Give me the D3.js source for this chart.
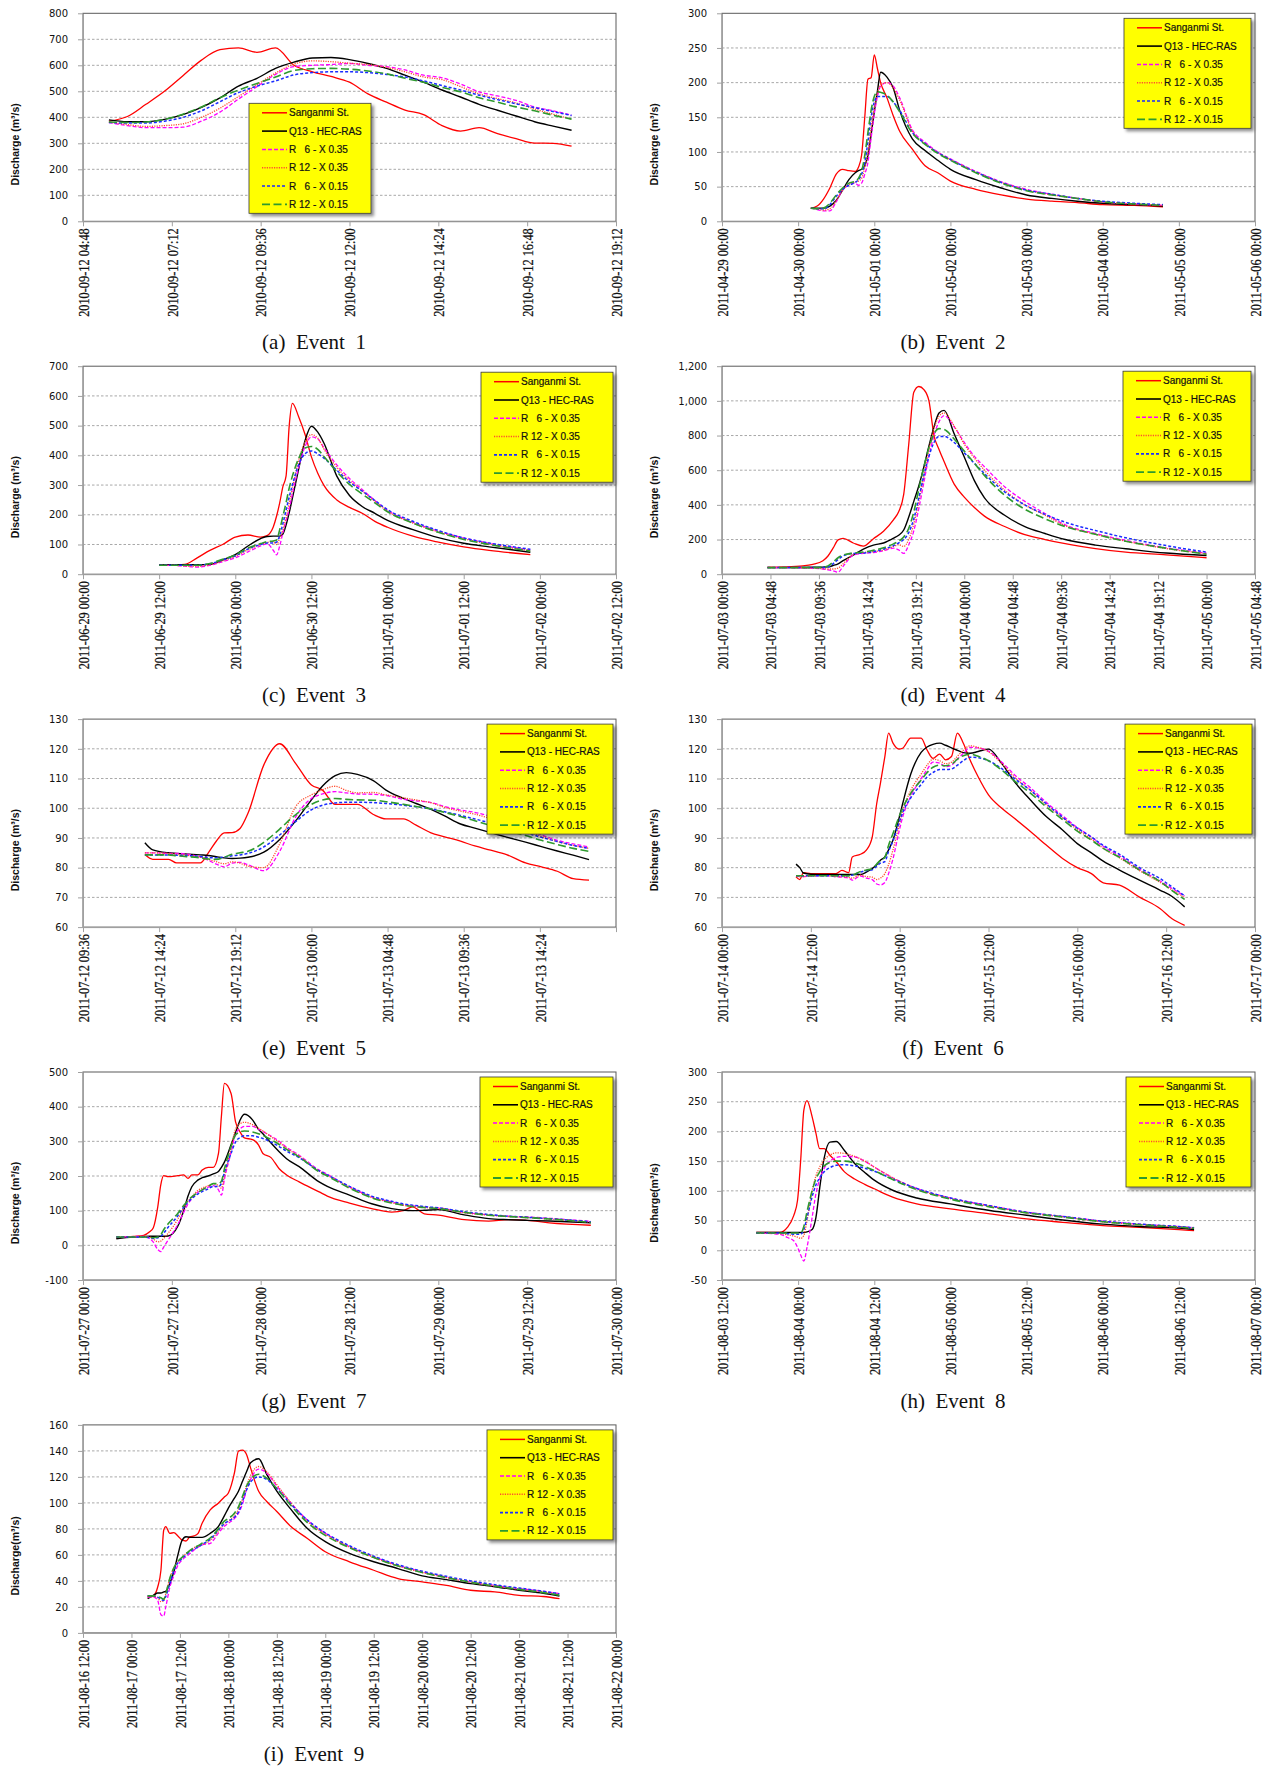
<!DOCTYPE html>
<html>
<head>
<meta charset="utf-8">
<script src="https://cdn.jsdelivr.net/npm/d3@7"></script>
<style>
  body { margin: 0; background: #fff; }
  .yaxis text { font-family: "DejaVu Sans", sans-serif; font-size: 10px; fill: #111; }
  .xaxis text { font-family: "Liberation Serif", serif; font-size: 14.5px; fill: #111; stroke: #111; stroke-width: 0.25px; }
  .axis path, .axis line { stroke: #a0a0a0; }
  .grid { stroke: #a8a8a8; stroke-dasharray: 2.5,2; }
  .ytitle { font-family: "Liberation Sans", Arial, sans-serif; font-size: 10.5px; font-weight: bold; fill: #111; }
  .caption { font-family: "Liberation Serif", serif; font-size: 21px; fill: #111; white-space: pre; }
  .legend text { font-family: "Liberation Sans", Arial, sans-serif; font-size: 10px; fill: #111; stroke: #111; stroke-width: 0.2px; white-space: pre; }
</style>
</head>
<body>
<div id="graf"></div>
<script>
// Serie names and styles
const seriesNames = ["Sanganmi St.", "Q13 - HEC-RAS", "R   6 - X 0.35", "R 12 - X 0.35", "R   6 - X 0.15", "R 12 - X 0.15"]

// Event 1 (hours from 2010-09-12 04:48)
const e1XLabels = ["2010-09-12 04:48", "2010-09-12 07:12", "2010-09-12 09:36", "2010-09-12 12:00", "2010-09-12 14:24", "2010-09-12 16:48", "2010-09-12 19:12"]
const e1XStep = 2.4
const e1YTicks = [0, 100, 200, 300, 400, 500, 600, 700, 800]
const e1Hours = [0.7, 1.2, 1.7, 2.2, 2.7, 3.2, 3.7, 4.2, 4.7, 5.2, 5.7, 6.2, 6.7, 7.2, 7.7, 8.2, 8.7, 9.2, 9.7, 10.2, 10.7, 11.2, 11.7, 12.2, 12.7, 13.2]
const e1Sanganmi = [385, 403, 450, 500, 560, 620, 660, 667, 650, 667, 600, 575, 557, 535, 490, 458, 428, 410, 368, 347, 360, 337, 318, 301, 300, 289]
const e1Q13 = [390, 383, 383, 392, 410, 438, 475, 520, 550, 588, 612, 628, 630, 622, 607, 588, 562, 535, 505, 478, 450, 427, 405, 383, 366, 350]
const e1R6X035 = [380, 368, 360, 360, 362, 385, 420, 470, 518, 565, 595, 600, 603, 607, 600, 595, 582, 562, 552, 528, 498, 482, 465, 440, 425, 408]
const e1R12X035 = [382, 372, 365, 368, 375, 400, 435, 480, 525, 570, 605, 617, 614, 608, 603, 592, 575, 555, 545, 518, 490, 472, 455, 432, 412, 393]
const e1R6X015 = [380, 378, 378, 385, 400, 425, 460, 495, 520, 540, 563, 572, 575, 575, 572, 565, 555, 540, 522, 505, 485, 468, 452, 437, 422, 407]
const e1R12X015 = [382, 380, 382, 392, 412, 440, 475, 505, 530, 555, 580, 587, 588, 585, 578, 567, 550, 535, 515, 498, 475, 458, 440, 425, 408, 393]

// Event 2 (hours from 2011-04-29 00:00)
const e2XLabels = ["2011-04-29 00:00", "2011-04-30 00:00", "2011-05-01 00:00", "2011-05-02 00:00", "2011-05-03 00:00", "2011-05-04 00:00", "2011-05-05 00:00", "2011-05-06 00:00"]
const e2XStep = 24
const e2YTicks = [0, 50, 100, 150, 200, 250, 300]
const e2Hours = [28, 30, 32, 34, 36, 38, 40, 42, 43, 44, 45, 46, 47, 48, 49, 50, 52, 54, 56, 60, 64, 68, 72, 80, 88, 96, 104, 112, 120, 130, 139]
const e2Sanganmi = [19, 22, 32, 48, 68, 75, 73, 72, 78, 95, 150, 205, 207, 240, 220, 200, 178, 152, 130, 104, 80, 70, 58, 46, 38, 32, 29, 27, 24, 23, 21]
const e2Q13 = [19, 19, 19, 22, 30, 45, 60, 70, 73, 75, 80, 95, 125, 158, 188, 215, 208, 192, 160, 119, 102, 88, 75, 60, 48, 38, 33, 29, 26, 24, 22]
const e2R6X035 = [19, 17, 15, 15, 28, 45, 52, 55, 52, 55, 68, 85, 120, 155, 180, 195, 200, 195, 178, 132, 114, 100, 90, 72, 57, 46, 39, 33, 28, 25, 23]
const e2R12X035 = [19, 18, 16, 18, 30, 45, 53, 57, 58, 62, 78, 100, 135, 165, 185, 197, 200, 192, 175, 130, 112, 99, 89, 71, 56, 45, 38, 33, 28, 25, 23]
const e2R6X015 = [19, 18, 18, 24, 36, 46, 52, 56, 60, 68, 85, 115, 150, 172, 180, 180, 180, 172, 160, 128, 112, 99, 89, 71, 56, 45, 39, 33, 29, 26, 24]
const e2R12X015 = [19, 18, 19, 26, 38, 48, 55, 58, 62, 72, 95, 128, 160, 180, 187, 186, 182, 172, 158, 127, 111, 98, 88, 70, 55, 44, 38, 33, 28, 25, 23]

// Event 3 (hours from 2011-06-29 00:00)
const e3XLabels = ["2011-06-29 00:00", "2011-06-29 12:00", "2011-06-30 00:00", "2011-06-30 12:00", "2011-07-01 00:00", "2011-07-01 12:00", "2011-07-02 00:00", "2011-07-02 12:00"]
const e3XStep = 12
const e3YTicks = [0, 100, 200, 300, 400, 500, 600, 700]
const e3Hours = [12, 14, 16, 18, 20, 22, 24, 26, 28, 29, 30, 30.5, 31, 31.5, 32, 32.5, 33, 34, 35, 36, 37, 38, 40, 42, 44, 46, 48, 52, 56, 60, 64, 70.5]
const e3Sanganmi = [31, 31, 33, 55, 80, 100, 125, 132, 125, 130, 160, 195, 240, 295, 330, 500, 575, 529, 470, 395, 340, 298, 250, 225, 205, 178, 158, 128, 108, 92, 80, 66]
const e3Q13 = [32, 32, 32, 32, 33, 48, 66, 95, 120, 127, 128, 128, 128, 135, 165, 207, 256, 355, 450, 498, 478, 440, 330, 265, 228, 205, 181, 150, 123, 104, 92, 74]
const e3R6X035 = [30, 30, 27, 24, 30, 42, 55, 75, 95, 102, 80, 65, 95, 140, 180, 220, 270, 360, 430, 462, 455, 425, 368, 322, 285, 248, 215, 175, 145, 122, 104, 82]
const e3R12X035 = [30, 30, 28, 27, 32, 45, 60, 82, 100, 107, 110, 100, 120, 150, 190, 240, 290, 385, 445, 470, 458, 420, 360, 315, 280, 245, 212, 172, 142, 119, 101, 79]
const e3R6X015 = [30, 30, 30, 30, 35, 48, 62, 85, 100, 105, 105, 108, 130, 170, 215, 260, 300, 370, 405, 415, 405, 390, 350, 310, 280, 248, 217, 178, 147, 122, 105, 84]
const e3R12X015 = [30, 30, 30, 30, 36, 50, 65, 88, 103, 110, 112, 115, 150, 195, 240, 290, 330, 390, 425, 430, 420, 395, 345, 302, 270, 240, 210, 172, 141, 117, 100, 78]

// Event 4 (hours from 2011-07-03 00:00)
const e4XLabels = ["2011-07-03 00:00", "2011-07-03 04:48", "2011-07-03 09:36", "2011-07-03 14:24", "2011-07-03 19:12", "2011-07-04 00:00", "2011-07-04 04:48", "2011-07-04 09:36", "2011-07-04 14:24", "2011-07-04 19:12", "2011-07-05 00:00", "2011-07-05 04:48"]
const e4XStep = 4.8
const e4YTicks = [0, 200, 400, 600, 800, 1000, 1200]
const e4Hours = [4.5, 6, 8, 9, 10, 10.5, 11, 11.5, 12, 13, 14, 15, 16, 17, 17.5, 18, 18.5, 19, 19.5, 20, 20.5, 21, 21.5, 22, 23, 24, 25, 26, 28, 30, 32, 34, 37, 40, 44, 48]
const e4Sanganmi = [40, 42, 48, 57, 78, 105, 150, 198, 207, 180, 162, 205, 248, 315, 360, 460, 750, 1050, 1083, 1065, 1000, 800, 720, 650, 520, 445, 385, 335, 275, 228, 200, 176, 148, 127, 112, 95]
const e4Q13 = [38, 38, 39, 40, 41, 42, 50, 60, 78, 110, 145, 168, 180, 208, 225, 255, 330, 420, 510, 620, 740, 850, 930, 945, 810, 676, 540, 440, 340, 275, 235, 200, 168, 147, 122, 108]
const e4R6X035 = [38, 38, 36, 34, 30, 25, 20, 12, 45, 110, 120, 125, 135, 150, 140, 120, 170, 250, 380, 530, 680, 800, 880, 915, 850, 760, 680, 620, 505, 420, 350, 285, 235, 195, 152, 122]
const e4R12X035 = [38, 38, 37, 35, 32, 30, 30, 35, 60, 115, 125, 130, 140, 160, 170, 160, 200, 290, 420, 570, 720, 840, 910, 930, 855, 750, 670, 600, 485, 400, 340, 280, 230, 190, 148, 118]
const e4R6X015 = [38, 38, 38, 38, 38, 42, 60, 85, 105, 120, 122, 130, 145, 165, 180, 200, 240, 320, 440, 570, 680, 760, 795, 795, 760, 700, 640, 580, 475, 400, 345, 300, 252, 210, 165, 127]
const e4R12X015 = [38, 38, 38, 38, 40, 48, 70, 95, 110, 122, 128, 138, 152, 175, 190, 215, 265, 360, 490, 620, 730, 810, 840, 835, 780, 710, 640, 570, 455, 375, 320, 275, 230, 190, 150, 115]

// Event 5 (hours from 2011-07-12 09:36)
const e5XLabels = ["2011-07-12 09:36", "2011-07-12 14:24", "2011-07-12 19:12", "2011-07-13 00:00", "2011-07-13 04:48", "2011-07-13 09:36", "2011-07-13 14:24", ""]
const e5XStep = 4.8
const e5YTicks = [60, 70, 80, 90, 100, 110, 120, 130]
const e5Hours = [3.9, 4.4, 5.4, 5.9, 7.4, 7.9, 8.4, 8.9, 9.4, 9.9, 10.4, 11.4, 12.4, 13.4, 14.4, 15.1, 15.9, 16.6, 17.3, 18.3, 19.1, 20.2, 21.0, 21.9, 22.8, 23.8, 24.7, 25.7, 26.7, 27.9, 28.9, 29.9, 30.9, 31.9]
const e5Sanganmi = [84.4, 82.8, 82.8, 81.6, 81.6, 85, 88.9, 91.7, 91.8, 93.2, 98.3, 114.6, 121.7, 115.1, 107.8, 106.1, 101.3, 101.3, 101.3, 97.9, 96.4, 96.4, 94.3, 91.8, 90.4, 88.9, 87.3, 85.9, 84.4, 81.6, 80.3, 78.8, 76.3, 75.8]
const e5Q13 = [88.4, 86.0, 85.0, 84.8, 84.3, 84.1, 83.7, 83.3, 83.1, 83.2, 83.5, 85.2, 89.5, 95.7, 102.8, 107.5, 111.0, 112.0, 111.4, 109.3, 106.1, 103.3, 101.6, 99.7, 97.4, 94.7, 93.3, 91.8, 90.3, 88.6, 87.1, 85.6, 84.2, 82.7]
const e5R6X035 = [85, 85, 84.8, 84.8, 83.6, 82.5, 81.2, 80.3, 81.5, 81.8, 81.0, 79.0, 85.5, 97, 103.3, 104.8, 105.6, 105.2, 104.8, 104.7, 104.3, 103.0, 102.5, 102.0, 100.6, 99.4, 98.6, 97.2, 95.3, 93.2, 91.0, 89.2, 88.0, 87.0]
const e5R12X035 = [85, 85, 84.8, 84.5, 83.5, 82.8, 82, 81.3, 82.0, 81.5, 80.5, 80.0, 88.0, 100.5, 104.5, 106.2, 107.4, 106.0, 105.2, 105.3, 104.5, 103.5, 102.8, 101.9, 100.3, 99.0, 98.0, 96.5, 94.5, 92.5, 90.5, 88.8, 87.5, 86.5]
const e5R6X015 = [84.3, 84.3, 84.3, 84.2, 83.8, 83.4, 83.3, 83.6, 84.0, 84.3, 84.8, 87.0, 91.0, 95.5, 99.5, 101.0, 101.8, 102.0, 102.0, 101.9, 101.6, 101.0, 100.5, 99.8, 98.8, 97.6, 96.4, 95.0, 93.6, 91.8, 90.2, 88.8, 87.5, 86.5]
const e5R12X015 = [84.3, 84.3, 84.3, 84.0, 83.3, 82.9, 82.8, 83.5, 84.5, 85.0, 85.5, 88.5, 93.0, 97.8, 101.3, 102.8, 103.3, 103.0, 102.8, 102.7, 102.2, 101.3, 100.6, 99.8, 98.6, 97.2, 95.8, 94.2, 92.6, 90.8, 89.2, 87.8, 86.5, 85.5]

// Event 6 (hours from 2011-07-14 00:00)
const e6XLabels = ["2011-07-14 00:00", "2011-07-14 12:00", "2011-07-15 00:00", "2011-07-15 12:00", "2011-07-16 00:00", "2011-07-16 12:00", "2011-07-17 00:00"]
const e6XStep = 12
const e6YTicks = [60, 70, 80, 90, 100, 110, 120, 130]
const e6Hours = [10, 10.5, 11, 12, 14, 15.4, 16.2, 17.1, 17.6, 18.7, 19.5, 20.3, 20.9, 21.4, 22.0, 22.5, 23.1, 23.9, 24.4, 25.5, 26.9, 27.7, 28.5, 29.4, 30.2, 31.0, 31.8, 32.6, 33.5, 34.6, 36.0, 37.8, 39.5, 41.7, 43.8, 46.0, 48.0, 49.9, 51.5, 53.7, 56.4, 59.2, 60.8, 62.5]
const e6Sanganmi = [76.9, 76, 78.3, 78, 78, 78, 79.1, 78.3, 83.6, 84.5, 85.9, 90.4, 101.6, 108.4, 117.4, 125.3, 121.9, 119.9, 120.2, 123.6, 123.6, 119.6, 116.8, 118.2, 116.3, 117.4, 125.3, 121.9, 116.3, 110.6, 104.5, 100, 96.6, 92.1, 87.6, 83.1, 80, 78, 74.9, 74.1, 70.1, 66.2, 62.8, 60.6]
const e6Q13 = [81.2, 80, 78.2, 77.8, 77.7, 77.7, 77.7, 77.7, 77.7, 77.7, 78.5, 79.7, 81, 82.5, 83.6, 86, 89.3, 96.5, 101.5, 111.5, 118.8, 120.6, 121.5, 121.9, 121.2, 120.3, 119.5, 118.7, 118.5, 119.1, 119.9, 115, 109.0, 102.7, 97.2, 92.7, 88.1, 85, 82.2, 79.2, 75.8, 72.4, 70.3, 66.8]
const e6R6X035 = [77.3, 77, 77, 77.2, 77.3, 77.0, 76.8, 76.5, 75.8, 77.2, 76.5, 76, 74.5, 74.2, 75, 78, 83, 92, 97, 104, 110, 113, 115.5, 115.2, 114.0, 114.5, 116.5, 118.5, 120.5, 120.3, 119.2, 115.5, 111.3, 106.8, 102.0, 97.5, 93.5, 90.3, 87.2, 84.0, 79.5, 75.5, 73.0, 70.5]
const e6R12X035 = [77.3, 77, 77, 77.2, 77.3, 77.0, 77, 76.8, 76.5, 77.5, 77.0, 76.8, 76, 76.5, 78, 81, 86, 94, 99, 106, 111.5, 114.5, 116.5, 116, 115, 115.5, 117.5, 119.5, 121, 120.5, 119, 115, 110.5, 106, 101.2, 96.8, 92.8, 89.6, 86.5, 83.3, 79, 75, 72.5, 70]
const e6R6X015 = [77.3, 77.3, 77.3, 77.3, 77.3, 77.3, 77.3, 77.3, 77.5, 78.5, 79, 79.3, 80.5, 81.5, 82, 85.5, 89, 95, 98.5, 103.5, 108, 110.5, 112, 113, 113, 113.2, 114.5, 116, 117.2, 117, 116, 113.3, 110, 106, 101.5, 97, 93.3, 90.3, 87.5, 84.5, 80, 76.3, 73.5, 70.5]
const e6R12X015 = [77.3, 77.3, 77.3, 77.3, 77.3, 77.3, 77.3, 77.3, 77.5, 78.7, 79.2, 79.7, 81.2, 82.5, 83.5, 87.5, 91.5, 97, 100, 105, 109.5, 112, 113.8, 114.5, 114.3, 114.8, 116.5, 117.7, 118.2, 117.5, 116, 112.8, 109.2, 105, 100.5, 96.2, 92.3, 89.3, 86.5, 83.5, 79.2, 75.3, 72.3, 69.3]

// Event 7 (hours from 2011-07-27 00:00)
const e7XLabels = ["2011-07-27 00:00", "2011-07-27 12:00", "2011-07-28 00:00", "2011-07-28 12:00", "2011-07-29 00:00", "2011-07-29 12:00", "2011-07-30 00:00"]
const e7XStep = 12
const e7YTicks = [-100, 0, 100, 200, 300, 400, 500]
const e7Hours = [4.5, 6.8, 8.2, 9.0, 9.5, 10.1, 10.5, 10.9, 11.5, 12.8, 13.6, 14.2, 14.7, 15.5, 16.1, 16.9, 17.6, 18.3, 18.7, 19.1, 20.0, 20.6, 21.3, 21.8, 22.9, 23.7, 24.3, 25.4, 26.5, 27.5, 29.2, 31.9, 33.0, 36.0, 39.0, 41.7, 43.4, 44.5, 46.1, 48.0, 51.5, 54.8, 57.5, 60.0, 63.0, 68.6]
const e7Sanganmi = [21, 26, 29, 39, 51, 111, 174, 201, 198, 201, 203, 193, 203, 203, 217, 225, 225, 265, 373, 467, 438, 357, 324, 310, 305, 290, 265, 253, 221, 203, 183, 154, 142, 122, 106, 96, 101, 111, 91, 87, 74, 70, 74, 72, 65, 58]
const e7Q13 = [19, 24, 25, 26, 26, 26, 26, 26, 27, 55, 100, 143, 169, 188, 195, 200, 206, 213, 225, 240, 290, 325, 365, 378, 362, 335, 322, 295, 270, 250, 227, 183, 170, 145, 120, 106, 101, 100, 101, 103, 88, 77, 74, 72, 70, 65]
const e7R6X035 = [24, 25, 26, 20, 9, -12, -18, -5, 15, 60, 95, 120, 135, 153, 160, 168, 172, 160, 145, 190, 268, 320, 338, 343, 343, 335, 328, 315, 300, 283, 260, 217, 205, 169, 140, 125, 117, 114, 110, 108, 95, 88, 84, 82, 78, 69]
const e7R12X035 = [24, 25, 26, 24, 18, 10, 12, 20, 35, 75, 108, 128, 140, 158, 165, 172, 178, 172, 165, 200, 280, 335, 352, 355, 348, 338, 330, 313, 297, 280, 257, 214, 202, 167, 138, 123, 115, 112, 109, 106, 94, 87, 83, 80, 76, 67]
const e7R6X015 = [24, 24, 24, 22, 20, 22, 26, 35, 52, 85, 110, 125, 135, 148, 155, 163, 170, 170, 178, 210, 265, 298, 312, 316, 316, 312, 308, 298, 285, 272, 253, 215, 203, 170, 142, 127, 119, 116, 112, 108, 97, 89, 84, 81, 77, 68]
const e7R12X015 = [24, 24, 24, 23, 22, 24, 30, 45, 62, 92, 115, 130, 140, 152, 160, 170, 178, 178, 185, 220, 285, 318, 328, 330, 327, 322, 317, 305, 291, 277, 255, 212, 200, 165, 137, 122, 115, 112, 109, 106, 95, 87, 83, 80, 76, 66]

// Event 8 (hours from 2011-08-03 12:00)
const e8XLabels = ["2011-08-03 12:00", "2011-08-04 00:00", "2011-08-04 12:00", "2011-08-05 00:00", "2011-08-05 12:00", "2011-08-06 00:00", "2011-08-06 12:00", "2011-08-07 00:00"]
const e8XStep = 12
const e8YTicks = [-50, 0, 50, 100, 150, 200, 250, 300]
const e8Hours = [5.4, 9.1, 10.3, 11.3, 11.9, 12.4, 12.9, 13.4, 14.2, 14.8, 15.4, 16.1, 17.0, 18.0, 19.3, 20.9, 22.5, 24.0, 26.9, 30.7, 36.0, 42.2, 48.0, 53.7, 60.0, 65.8, 72.0, 74.4]
const e8Sanganmi = [30.2, 30.2, 38.6, 58.4, 83.8, 151.5, 236, 252, 225, 197, 171, 171, 160, 149, 132, 120, 111, 103.5, 89.4, 78, 69.7, 61.2, 52.7, 47.1, 41.5, 38.6, 34.7, 33]
const e8Q13 = [30, 30, 30, 30, 30, 30, 30, 31, 35, 55, 105, 155, 182, 183, 168, 146, 131, 118, 101, 88, 78, 67, 59, 51, 44, 40, 37.5, 35]
const e8R6X035 = [29, 27, 21.5, 16, 5, -8, -18, 5, 55, 95, 120, 138, 150, 156, 158, 157, 150, 140, 122, 104, 88, 75, 64, 57, 49, 44, 40, 38]
const e8R12X035 = [29, 28, 26, 24, 22, 20, 25, 50, 100, 125, 140, 152, 160, 164, 163, 158, 150, 140, 122, 103, 87, 74, 63, 56, 48, 43, 39, 37]
const e8R6X015 = [29, 29, 28, 27, 27, 27, 35, 55, 90, 110, 122, 132, 139, 143, 144, 142, 138, 133, 120, 104, 88, 75, 64, 57, 49, 44, 40, 38]
const e8R12X015 = [29, 29, 29, 29, 29, 29, 40, 65, 100, 120, 132, 142, 148, 150, 150, 147, 141, 134, 119, 102, 86, 73, 63, 56, 48, 43, 39, 37]

// Event 9 (hours from 2011-08-16 12:00)
const e9XLabels = ["2011-08-16 12:00", "2011-08-17 00:00", "2011-08-17 12:00", "2011-08-18 00:00", "2011-08-18 12:00", "2011-08-19 00:00", "2011-08-19 12:00", "2011-08-20 00:00", "2011-08-20 12:00", "2011-08-21 00:00", "2011-08-21 12:00", "2011-08-22 00:00"]
const e9XStep = 12
const e9YTicks = [0, 20, 40, 60, 80, 100, 120, 140, 160]
const e9Hours = [16, 17.5, 18.5, 19.3, 20, 20.5, 21.5, 22.5, 23.5, 24.5, 25.5, 26.5, 27.5, 28.5, 29.5, 31.5, 33.5, 35, 36, 37.5, 38.5, 39.5, 40.5, 41.5, 43.5, 45.5, 48, 51.5, 55.5, 60, 66, 72, 78, 84, 90, 96, 102, 108, 114, 118]
const e9Sanganmi = [27.6, 28.9, 35.3, 48.2, 79.2, 81.8, 76.6, 77.1, 74.6, 71.5, 70.7, 74, 74.6, 76.6, 84.4, 94.7, 99.8, 104.5, 107.6, 123.1, 139.8, 140.6, 137.3, 126.9, 108.9, 101.1, 93.4, 81.8, 72.8, 62.4, 54.7, 48.2, 41.8, 39.2, 36.5, 32.8, 31.5, 28.9, 28, 26.3]
const e9Q13 = [26.3, 29, 30.7, 30.7, 31.5, 32, 38, 47, 60, 71, 74, 73.5, 73.5, 73.5, 73.5, 76.6, 81.8, 90, 96, 103.7, 109, 116.6, 124, 130.8, 134, 122, 109, 95, 80.5, 70.2, 61.1, 54.7, 49.5, 43.9, 41, 37.9, 35.5, 32.8, 30.5, 28.4]
const e9R6X035 = [27.6, 27.6, 25, 14, 13, 20, 35, 44, 52, 56, 58.6, 61, 63.7, 66, 67.6, 68.9, 76.6, 82, 84.4, 88, 92, 99, 110, 118, 126, 123, 113, 100, 87, 76.6, 66.3, 58.6, 52, 47, 43, 39.2, 36.5, 34.1, 32, 30.2]
const e9R12X035 = [28, 28, 27, 24, 25, 30, 42, 50, 55, 58, 61, 63, 65.5, 67, 68, 71, 78, 84, 86, 90, 95, 103, 113, 121, 128, 124, 114, 100, 86, 76, 66, 58, 51.5, 46.5, 42.5, 39, 36, 33.5, 31.5, 29.5]
const e9R6X015 = [28.5, 28.5, 27.5, 26, 25, 28, 38, 48, 54, 57, 60, 62.5, 64.5, 66, 68, 72, 79, 84, 86, 89, 93, 101, 110, 116, 120, 118, 111, 99, 87, 77, 67, 59, 52.5, 47.5, 43.5, 40, 37, 34.5, 32, 30]
const e9R12X015 = [28.5, 28.5, 28, 27, 26, 30, 42, 50, 55, 58, 61, 63.5, 65.5, 67, 69, 73, 80, 86, 88, 92, 97, 105, 113, 118, 122, 119, 111, 98, 85, 75, 65.5, 58, 51.5, 46.5, 42.5, 39, 36, 33.5, 31, 29]

const draw = () => {
  const anchoTotal = 1268
  const altoTotal = 1767

  const events = [
    { tag: "a", num: 1, hours: e1Hours, values: [e1Sanganmi, e1Q13, e1R6X035, e1R12X035, e1R6X015, e1R12X015], xLabels: e1XLabels, xStep: e1XStep, yTicks: e1YTicks },
    { tag: "b", num: 2, hours: e2Hours, values: [e2Sanganmi, e2Q13, e2R6X035, e2R12X035, e2R6X015, e2R12X015], xLabels: e2XLabels, xStep: e2XStep, yTicks: e2YTicks },
    { tag: "c", num: 3, hours: e3Hours, values: [e3Sanganmi, e3Q13, e3R6X035, e3R12X035, e3R6X015, e3R12X015], xLabels: e3XLabels, xStep: e3XStep, yTicks: e3YTicks },
    { tag: "d", num: 4, hours: e4Hours, values: [e4Sanganmi, e4Q13, e4R6X035, e4R12X035, e4R6X015, e4R12X015], xLabels: e4XLabels, xStep: e4XStep, yTicks: e4YTicks },
    { tag: "e", num: 5, hours: e5Hours, values: [e5Sanganmi, e5Q13, e5R6X035, e5R12X035, e5R6X015, e5R12X015], xLabels: e5XLabels, xStep: e5XStep, yTicks: e5YTicks },
    { tag: "f", num: 6, hours: e6Hours, values: [e6Sanganmi, e6Q13, e6R6X035, e6R12X035, e6R6X015, e6R12X015], xLabels: e6XLabels, xStep: e6XStep, yTicks: e6YTicks },
    { tag: "g", num: 7, hours: e7Hours, values: [e7Sanganmi, e7Q13, e7R6X035, e7R12X035, e7R6X015, e7R12X015], xLabels: e7XLabels, xStep: e7XStep, yTicks: e7YTicks },
    { tag: "h", num: 8, hours: e8Hours, values: [e8Sanganmi, e8Q13, e8R6X035, e8R12X035, e8R6X015, e8R12X015], xLabels: e8XLabels, xStep: e8XStep, yTicks: e8YTicks },
    { tag: "i", num: 9, hours: e9Hours, values: [e9Sanganmi, e9Q13, e9R6X035, e9R12X035, e9R6X015, e9R12X015], xLabels: e9XLabels, xStep: e9XStep, yTicks: e9YTicks },
  ]

  // Estilos de las series
  const styles = [
    { color: "#ff0000", dash: null, width: 1.3 },
    { color: "#000000", dash: null, width: 1.4 },
    { color: "#ff00ff", dash: "4,2", width: 1.3 },
    { color: "#ff4d2e", dash: "1.2,1.2", width: 1.3 },
    { color: "#1a2cff", dash: "3,2", width: 1.5 },
    { color: "#2e9a2e", dash: "8,3.5", width: 1.6 },
  ]

  // Cajas de leyenda (x relativo o margen derecho)
  const legendBoxes = [
    { x: 166, y: 90, w: 122 },
    { r: 4, y: 5, w: 127 },
    { r: 3, y: 6, w: 132 },
    { r: 4, y: 5, w: 128 },
    { r: 3, y: 5, w: 126 },
    { r: 3, y: 5, w: 127 },
    { r: 3, y: 5, w: 133 },
    { r: 4, y: 5, w: 125 },
    { r: 3, y: 5, w: 126 },
  ]

  const ancho = 533
  const alto = 208
  const colLeft = [83, 722]
  const rowTop = (r) => 13.3 + r * 352.9

  const svg = d3
    .select("#graf")
    .append("svg")
    .attr("width", anchoTotal)
    .attr("height", altoTotal)
    .style("display", "block")

  const defs = svg.append("defs")
  defs
    .append("filter")
    .attr("id", "sombra")
    .attr("x", "-10%")
    .attr("y", "-10%")
    .attr("width", "130%")
    .attr("height", "130%")
    .append("feDropShadow")
    .attr("dx", 2.5)
    .attr("dy", 2.5)
    .attr("stdDeviation", 1.5)
    .attr("flood-color", "#000")
    .attr("flood-opacity", 0.45)

  events.forEach((ev, i) => {
    const col = i % 2
    const row = Math.floor(i / 2)
    const left = colLeft[col]
    const top = rowTop(row)

    const x = d3
      .scaleLinear()
      .domain([0, ev.xStep * (ev.xLabels.length - 1)])
      .range([0, ancho])
    const y = d3
      .scaleLinear()
      .domain(d3.extent(ev.yTicks))
      .range([alto, 0])

    const chart = svg.append("g").attr("transform", `translate(${left}, ${top})`)

    // Rejilla
    chart
      .append("g")
      .selectAll("line")
      .data(ev.yTicks.slice(1, -1))
      .join("line")
      .attr("class", "grid")
      .attr("x1", 0)
      .attr("x2", ancho)
      .attr("y1", (d) => y(d))
      .attr("y2", (d) => y(d))

    chart
      .append("rect")
      .attr("width", ancho)
      .attr("height", alto)
      .attr("fill", "none")
      .attr("stroke", "#5a5a5a")
      .attr("stroke-width", 1)

    // Ejes
    const fmt = ev.num === 4 ? d3.format(",") : (d) => d
    const yAxis = d3.axisLeft(y).tickValues(ev.yTicks).tickFormat(fmt).tickSize(5).tickSizeOuter(0).tickPadding(10)
    chart.append("g").attr("class", "axis yaxis").call(yAxis)

    const xAxis = d3
      .axisBottom(x)
      .tickValues(ev.xLabels.map((_, k) => k * ev.xStep))
      .tickFormat((d, k) => ev.xLabels[k])
      .tickSize(5)
      .tickSizeOuter(0)
    const xg = chart
      .append("g")
      .attr("class", "axis xaxis")
      .attr("transform", `translate(0, ${alto})`)
      .call(xAxis)
    xg.selectAll("text")
      .attr("text-anchor", "end")
      .attr("transform", "rotate(-90) scale(0.85,1)")
      .attr("x", -7 / 0.85)
      .attr("y", 0)
      .attr("dy", "0.36em")

    // Lineas
    ev.values.forEach((vals, s) => {
      const line = d3
        .line()
        .x((d, k) => x(ev.hours[k]))
        .y((d) => y(d))
        .curve(d3.curveMonotoneX)
      chart
        .append("path")
        .datum(vals)
        .attr("d", line)
        .attr("fill", "none")
        .attr("stroke", styles[s].color)
        .attr("stroke-width", styles[s].width)
        .attr("stroke-dasharray", styles[s].dash)
        .attr("stroke-linejoin", "round")
    })

    // Leyenda
    const lb = legendBoxes[i]
    const lx = lb.x !== undefined ? lb.x : ancho - lb.r - lb.w
    const legend = chart.append("g").attr("class", "legend").attr("transform", `translate(${lx}, ${lb.y})`)
    legend
      .append("rect")
      .attr("width", lb.w)
      .attr("height", 110)
      .attr("fill", "#ffff00")
      .attr("stroke", "#3a3a3a")
      .attr("stroke-width", 0.8)
      .attr("filter", "url(#sombra)")
    seriesNames.forEach((name, s) => {
      const ly = 9.5 + s * 18.3
      legend
        .append("line")
        .attr("x1", 13)
        .attr("x2", 38)
        .attr("y1", ly)
        .attr("y2", ly)
        .attr("stroke", styles[s].color)
        .attr("stroke-width", styles[s].width + 0.2)
        .attr("stroke-dasharray", styles[s].dash)
      legend
        .append("text")
        .attr("x", 40)
        .attr("y", ly + 3.6)
        .text(name)
    })

    // Titulo del eje Y
    chart
      .append("text")
      .attr("class", "ytitle")
      .attr("transform", `translate(-64, 131) rotate(-90)`)
      .attr("text-anchor", "middle")
      .text(ev.num >= 8 ? "Discharge(m³/s)" : "Discharge (m³/s)")

    // Rotulo
    chart
      .append("text")
      .attr("class", "caption")
      .attr("x", 231)
      .attr("y", 336)
      .attr("text-anchor", "middle")
      .text(`(${ev.tag})  Event  ${ev.num}`)
  })
}

draw()
</script>
</body>
</html>
